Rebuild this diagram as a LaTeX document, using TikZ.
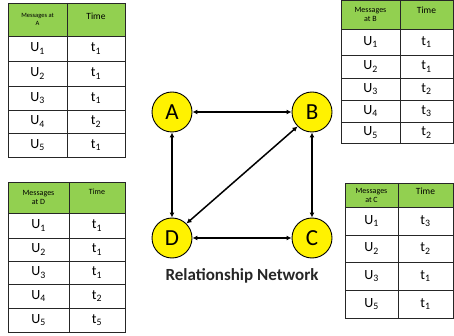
\documentclass[tikz,border=0pt]{standalone}
\usepackage{fontspec}
\setmainfont{Carlito}
\usetikzlibrary{arrows.meta}
\definecolor{hgreen}{HTML}{92D050}
\begin{document}
\begin{tikzpicture}[x=1pt,y=-1pt,
  nd/.style={circle,draw=black,line width=0.9pt,fill=yellow,minimum size=40pt,inner sep=0pt,font=\fontsize{23}{23}\selectfont},
  link/.style={{Latex[length=5pt,width=5pt]}-{Latex[length=5pt,width=5pt]},line width=1.5pt},
  grid/.style={draw=black!85,line width=0.7pt},
  cell/.style={font=\fontsize{14}{14}\selectfont,inner sep=0pt},
  hmsg/.style={font=\fontsize{8}{9}\selectfont,align=center,inner sep=0pt},
  hmsgs/.style={font=\fontsize{6.5}{8}\selectfont,align=center,inner sep=0pt},
  htime/.style={font=\fontsize{9.5}{10}\selectfont,inner sep=0pt}]
\useasboundingbox (0,0) rectangle (454,336);

% ---- Table A
\fill[hgreen] (8,3) rectangle (125,36);
\foreach \y in {36,61,86,110,133} \draw[grid] (8,\y) -- (125,\y);
\draw[grid] (8,3) rectangle (125,157);
\draw[grid] (67,3) -- (67,157);
\node[hmsgs] (ha1) at (37.5,19.5) {Messages at\\A};
\node[htime] (ha2) at (96,16) {Time};
\foreach \yc/\u/\t in {48.5/1/1,73.5/2/1,98/3/1,121.5/4/2,145/5/1}{
  \node[cell] (au\u) at (37.5,\yc) {U\textsubscript{\u}};
  \node[cell] (at\u) at (96,\yc) {t\textsubscript{\t}};}

% ---- Table B
\fill[hgreen] (341,0.5) rectangle (453,29);
\foreach \y in {29,55,78,100,122} \draw[grid] (341,\y) -- (453,\y);
\draw[grid] (341,0.5) rectangle (453,143);
\draw[grid] (400,0.5) -- (400,143);
\node[hmsg] (hb1) at (370.5,14.5) {Messages\\at B};
\node[htime] (hb2) at (426.5,10) {Time};
\foreach \yc/\u/\t in {42/1/1,66.5/2/1,89/3/2,111/4/3,132.5/5/2}{
  \node[cell] (bu\u) at (370.5,\yc) {U\textsubscript{\u}};
  \node[cell] (bt\u) at (426.5,\yc) {t\textsubscript{\t}};}

% ---- Table D
\fill[hgreen] (8,182) rectangle (125,213);
\foreach \y in {213,238,261,284,308} \draw[grid] (8,\y) -- (125,\y);
\draw[grid] (8,182) rectangle (125,332);
\draw[grid] (69,182) -- (69,332);
\node[hmsg] (hd1) at (38.5,197.5) {Messages\\at D};
\node[hmsg] (hd2) at (97,192) {Time};
\foreach \yc/\u/\t in {225.5/1/1,249.5/2/1,272.5/3/1,296/4/2,320/5/5}{
  \node[cell] (du\u) at (38.5,\yc) {U\textsubscript{\u}};
  \node[cell] (dt\u) at (97,\yc) {t\textsubscript{\t}};}

% ---- Table C
\fill[hgreen] (345,183) rectangle (453,207);
\foreach \y in {207,235,262,290} \draw[grid] (345,\y) -- (453,\y);
\draw[grid] (345,183) rectangle (453,318);
\draw[grid] (398,183) -- (398,318);
\node[hmsg] (hc1) at (371.5,195) {Messages\\at C};
\node[htime] (hc2) at (425.5,191) {Time};
\foreach \yc/\u/\t in {221/1/3,248.5/2/2,276/3/1,304/5/1}{
  \node[cell] (cu\u) at (371.5,\yc) {U\textsubscript{\u}};
  \node[cell] (ct\u) at (425.5,\yc) {t\textsubscript{\t}};}

% ---- Network
\node[nd] (A) at (172,112) {A};
\node[nd] (B) at (312,112) {B};
\node[nd] (D) at (172,238) {D};
\node[nd] (C) at (312,238) {C};
\draw[link] (A) -- (B);
\draw[link] (A) -- (D);
\draw[link] (B) -- (C);
\draw[link] (D) -- (C);
\draw[link] (D.north east) -- (B.south west);
\node[font=\fontsize{17}{17}\selectfont\bfseries,text=black!85] (title) at (242,276) {Relationship Network};
\end{tikzpicture}
\end{document}
